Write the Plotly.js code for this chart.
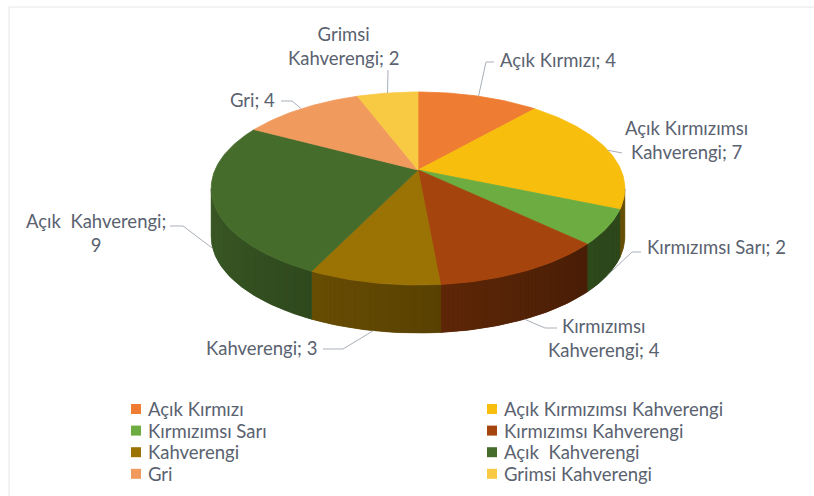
<!DOCTYPE html>
<html>
<head>
<meta charset="utf-8">
<script src="https://cdn.plot.ly/plotly-3.0.1.min.js"></script>
<style>html,body{margin:0;padding:0;background:#fff;}#chart{width:814px;height:496px;}</style>
</head>
<body>
<div id="chart"></div>
<script>
// ---- data ----
const categories = ['Açık Kırmızı', 'Açık Kırmızımsı Kahverengi', 'Kırmızımsı Sarı', 'Kırmızımsı Kahverengi',
                    'Kahverengi', 'Açık  Kahverengi', 'Gri', 'Grimsi Kahverengi'];
const values = [4, 7, 2, 4, 3, 9, 4, 2];
const colors = ['#EE7C32', '#F7BE0E', '#6CAC40', '#A5440D', '#9B7204', '#466C2C', '#F19A5E', '#F8C943'];
// where the label wraps: 'none', 'word' (before last word), 'value' (before the value)
const labelWrap = ['none', 'word', 'none', 'word', 'none', 'value', 'none', 'word'];

// ---- geometry / style ----
const CX = 418, CY = 170, A = 203, B = 92.95, K = 0.1917, DEPTH = 48;
const FONT = 'Lato, "Open Sans", sans-serif';
const FS = 18.5;
const TXT = '#5A6270';
const labelPos = [
  {x: 498, y: 60, xa: 'left', ax: 494, ay: 62, bx: 486, by: 62},
  {x: 686, y: 140, xa: 'center', ax: 622, ay: 153, bx: 622, by: 153},
  {x: 645, y: 247, xa: 'left', ax: 641, ay: 252, bx: 632, by: 252},
  {x: 604, y: 338, xa: 'center', ax: 557, ay: 328, bx: 545, by: 328},
  {x: 319, y: 348, xa: 'right', ax: 323, ay: 349, bx: 343, by: 349},
  {x: 96, y: 233, xa: 'center', ax: 170, ay: 226, bx: 183, by: 226},
  {x: 277, y: 100, xa: 'right', ax: 281, ay: 101, bx: 292, by: 101},
  {x: 343, y: 46, xa: 'center', ax: 388, ay: 70, bx: 388, by: 70}
];
const legendCols = [131, 487], legendTop = 409, legendRow = 21.6, legendBox = 10;

function proj(deg, dy) {
  const p = deg * Math.PI / 180, u = Math.sin(p), v = Math.cos(p), d = 1 + K * v;
  return [CX + A * u / d, CY - B * v / d + (dy || 0)];
}
function shade(hex, f) {
  const n = parseInt(hex.slice(1), 16);
  const r = Math.round(((n >> 16) & 255) * f), g = Math.round(((n >> 8) & 255) * f), b = Math.round((n & 255) * f);
  return 'rgb(' + r + ',' + g + ',' + b + ')';
}
function sideFactor(deg) { return 0.42 + 0.43 * Math.max(0, (deg - 130) / (FRONT1 - 130)); }
function band(a0, a1) {
  const xs = [], ys = [];
  const n = Math.max(1, Math.ceil(a1 - a0));
  for (let j = 0; j <= n; j++) { const p = proj(a0 + (a1 - a0) * j / n, 0); xs.push(p[0]); ys.push(p[1]); }
  for (let j = n; j >= 0; j--) { const p = proj(a0 + (a1 - a0) * j / n, DEPTH); xs.push(p[0]); ys.push(p[1]); }
  xs.push(xs[0]); ys.push(ys[0]);
  return [xs, ys];
}
const total = values.reduce((s, v) => s + v, 0);
const starts = [], ends = [];
let acc = 0;
values.forEach(v => { starts.push(acc / total * 360); acc += v; ends.push(acc / total * 360); });

const FRONT0 = Math.acos(-K) * 180 / Math.PI, FRONT1 = 360 - FRONT0;
const traces = [];
// sides: a solid underlay per slice, then fine shaded strips on top
values.forEach((v, i) => {
  const s = Math.max(starts[i], FRONT0), e = Math.min(ends[i], FRONT1);
  if (e <= s) return;
  const base = shade(colors[i], sideFactor((s + e) / 2));
  const b = band(s, e);
  traces.push({type: 'scatter', x: b[0], y: b[1], mode: 'lines', fill: 'toself', fillcolor: base,
    line: {color: base, width: 0.6}, hoverinfo: 'skip', showlegend: false});
  const n = Math.max(1, Math.ceil(e - s));
  for (let j = 0; j < n; j++) {
    const a0 = s + (e - s) * j / n, a1 = s + (e - s) * (j + 1) / n;
    const c = shade(colors[i], sideFactor((a0 + a1) / 2));
    const q = band(a0, a1);
    traces.push({type: 'scatter', x: q[0], y: q[1], mode: 'none', fill: 'toself', fillcolor: c,
      hoverinfo: 'skip', showlegend: false});
  }
});
// tops
values.forEach((v, i) => {
  const xs = [CX], ys = [CY];
  const n = Math.max(2, Math.ceil(ends[i] - starts[i]));
  for (let j = 0; j <= n; j++) {
    const p = proj(starts[i] + (ends[i] - starts[i]) * j / n);
    xs.push(p[0]); ys.push(p[1]);
  }
  xs.push(CX); ys.push(CY);
  traces.push({type: 'scatter', x: xs, y: ys, mode: 'lines', fill: 'toself', fillcolor: colors[i],
    line: {color: colors[i], width: 0.8}, hoverinfo: 'skip', showlegend: false, name: categories[i]});
});

// labels and leader lines
const annotations = [], shapes = [];
categories.forEach((c, i) => {
  let txt;
  if (labelWrap[i] === 'word') {
    const k = c.lastIndexOf(' ');
    txt = c.slice(0, k) + '<br>' + c.slice(k + 1) + '; ' + values[i];
  } else if (labelWrap[i] === 'value') {
    txt = c + ';<br>' + values[i];
  } else {
    txt = c + '; ' + values[i];
  }
  const L = labelPos[i];
  annotations.push({x: L.x, y: L.y, xref: 'x', yref: 'y', text: txt, showarrow: false,
    xanchor: L.xa, yanchor: 'middle', align: 'center', font: {family: FONT, size: FS, color: TXT}});
  const mid = (starts[i] + ends[i]) / 2;
  const front = mid > FRONT0 && mid < FRONT1;
  const p = proj(mid, front ? DEPTH : 0);
  shapes.push({type: 'path', xref: 'x', yref: 'y',
    path: 'M' + L.ax + ',' + L.ay + 'L' + L.bx + ',' + L.by + 'L' + p[0].toFixed(1) + ',' + p[1].toFixed(1),
    line: {color: '#A9AFB7', width: 1}});
});
// legend (two columns, row-major)
categories.forEach((c, i) => {
  const col = i % 2, row = Math.floor(i / 2);
  const x0 = legendCols[col], yc = legendTop + row * legendRow;
  shapes.push({type: 'rect', xref: 'x', yref: 'y', x0: x0, x1: x0 + legendBox,
    y0: yc - legendBox / 2, y1: yc + legendBox / 2, fillcolor: colors[i], line: {width: 0}});
  annotations.push({x: x0 + legendBox + 5, y: yc, xref: 'x', yref: 'y', text: c, showarrow: false,
    xanchor: 'left', yanchor: 'middle', font: {family: FONT, size: FS, color: TXT}});
});
// frame
shapes.push({type: 'line', xref: 'paper', yref: 'paper', x0: 9 / 814, x1: 1, y0: 1 - 7 / 496, y1: 1 - 7 / 496, line: {color: '#E4E6E8', width: 1}});
shapes.push({type: 'line', xref: 'paper', yref: 'paper', x0: 9 / 814, x1: 9 / 814, y0: 0, y1: 1 - 7 / 496, line: {color: '#E4E6E8', width: 1}});

const layout = {
  width: 814, height: 496,
  margin: {l: 0, r: 0, t: 0, b: 0},
  paper_bgcolor: '#ffffff', plot_bgcolor: '#ffffff',
  xaxis: {range: [0, 814], visible: false, fixedrange: true},
  yaxis: {range: [496, 0], visible: false, fixedrange: true},
  showlegend: false,
  annotations: annotations,
  shapes: shapes
};
Plotly.newPlot('chart', traces, layout, {staticPlot: true, displayModeBar: false});
</script>
</body>
</html>
